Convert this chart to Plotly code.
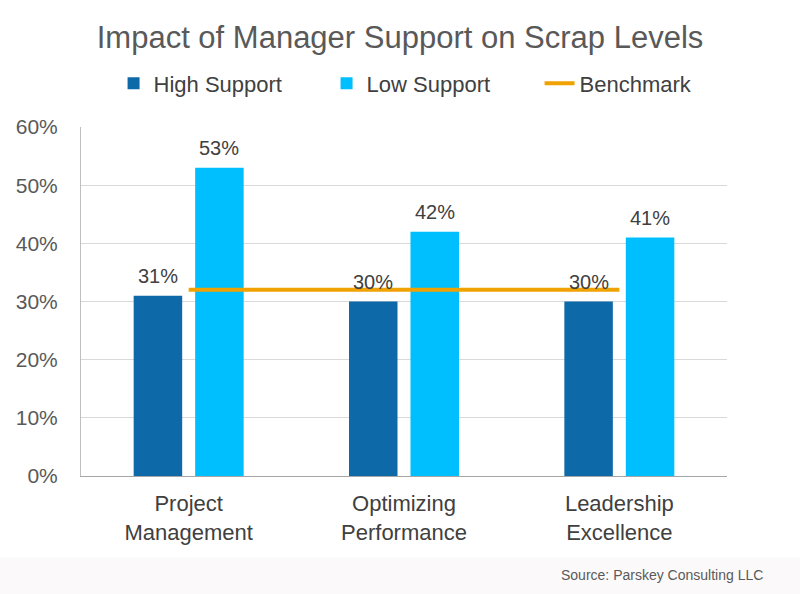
import plotly.graph_objects as go

categories = ["Project<br>Management", "Optimizing<br>Performance", "Leadership<br>Excellence"]
high_support = [0.31, 0.30, 0.30]
low_support = [0.53, 0.42, 0.41]
benchmark = [0.32, 0.32, 0.32]
y_ticks = [0, 0.1, 0.2, 0.3, 0.4, 0.5, 0.6]

FONT = "Liberation Sans, Arial, sans-serif"
DARK = "#0E69A8"
LIGHT = "#00BFFF"
ORANGE = "#F0A202"

fig = go.Figure()
fig.add_trace(go.Bar(name="High Support", x=categories, y=high_support,
                     marker=dict(color=DARK, line=dict(width=0))))
fig.add_trace(go.Bar(name="Low Support", x=categories, y=low_support,
                     marker=dict(color=LIGHT, line=dict(width=0))))
fig.add_trace(go.Scatter(name="Benchmark", x=categories, y=benchmark, mode="lines",
                         line=dict(color=ORANGE, width=4)))

# value labels
for vals, shift in ((high_support, -30.75), (low_support, 30.75)):
    for c, v in zip(categories, vals):
        fig.add_annotation(x=c, y=v, xref="x", yref="y", text=f"{round(v*100)}%",
                           showarrow=False, xshift=shift, yshift=7, yanchor="bottom",
                           font=dict(family=FONT, size=20, color="#404040"))

# bottom band + source
fig.add_shape(type="rect", xref="paper", yref="paper", x0=-0.2, x1=1.2, y0=-0.345, y1=-0.2335,
              fillcolor="#FBF9F9", line=dict(width=0), layer="below")
fig.add_annotation(xref="paper", yref="paper", x=1.059, y=-0.285, xanchor="right", yanchor="middle",
                   text="Source: Parskey Consulting LLC", showarrow=False,
                   font=dict(family=FONT, size=14, color="#595959"))

fig.update_layout(
    width=800, height=594,
    margin=dict(l=81, r=73, t=127, b=118),
    paper_bgcolor="white", plot_bgcolor="white",
    barmode="group", bargap=0.429, bargroupgap=0.211,
    title=dict(text="Impact of Manager Support on Scrap Levels", x=0.5, xanchor="center",
               y=1 - 37 / 594, yanchor="middle", yref="container",
               font=dict(family=FONT, size=31, color="#595959")),
    legend=dict(orientation="h", x=0.545, xanchor="center", y=1.125, yanchor="middle",
                font=dict(family=FONT, size=22, color="#404040"), bgcolor="rgba(0,0,0,0)",
                entrywidth=168, traceorder="normal"),
    xaxis=dict(showline=True, linecolor="#A6A6A6", linewidth=1, ticks="",
               tickfont=dict(family=FONT, size=22, color="#404040"), ticklabelstandoff=8),
    yaxis=dict(range=[0, 0.6], tickvals=y_ticks, tickformat=".0%", showgrid=True,
               gridcolor="#D9D9D9", gridwidth=1, zeroline=False, showline=True,
               linecolor="#BFBFBF", linewidth=1, ticks="",
               tickfont=dict(family=FONT, size=21, color="#595959"), ticklabelstandoff=18),
    font=dict(family=FONT),
)

fig.write_html("out.html")
